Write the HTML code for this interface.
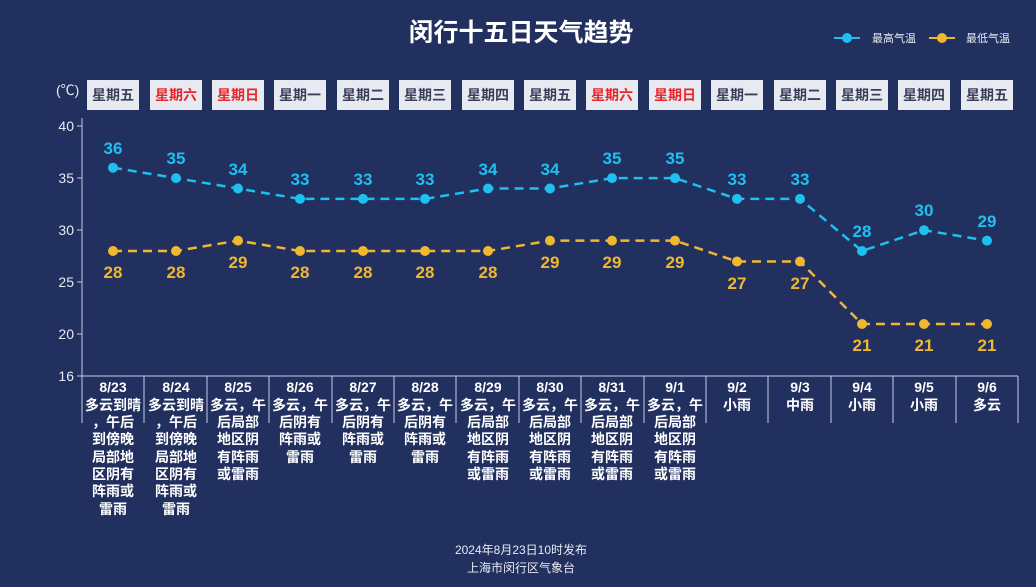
<!DOCTYPE html>
<html><head><meta charset="utf-8"><style>
html,body{margin:0;padding:0;background:#22305f;}
svg{display:block;font-family:"Liberation Sans","Noto Sans CJK SC",sans-serif;}
</style></head><body>
<svg width="1036" height="587" viewBox="0 0 1036 587" xmlns="http://www.w3.org/2000/svg">
<rect width="1036" height="587" fill="#22305f"/>
<text x="521" y="41" fill="#fff" font-size="25" font-weight="bold" text-anchor="middle">闵行十五日天气趋势</text>
<g font-size="11" fill="#e8eaf2">
<line x1="834" y1="38" x2="860" y2="38" stroke="#1ec0f0" stroke-width="2"/><circle cx="847" cy="38" r="5" fill="#1ec0f0"/>
<text x="872" y="42">最高气温</text>
<line x1="929" y1="38" x2="955" y2="38" stroke="#f0b830" stroke-width="2"/><circle cx="942" cy="38" r="5" fill="#f0b830"/>
<text x="966" y="42">最低气温</text>
</g>
<text x="56" y="95" fill="#e8eaf2" font-size="14">(℃)</text>
<g font-size="14" font-weight="bold" text-anchor="middle">
<g fill="#e8eaf2">
<rect x="87" y="80" width="52" height="30"/><rect x="150" y="80" width="52" height="30"/><rect x="212" y="80" width="52" height="30"/><rect x="274" y="80" width="52" height="30"/><rect x="337" y="80" width="52" height="30"/><rect x="399" y="80" width="52" height="30"/><rect x="462" y="80" width="52" height="30"/><rect x="524" y="80" width="52" height="30"/><rect x="586" y="80" width="52" height="30"/><rect x="649" y="80" width="52" height="30"/><rect x="711" y="80" width="52" height="30"/><rect x="774" y="80" width="52" height="30"/><rect x="836" y="80" width="52" height="30"/><rect x="898" y="80" width="52" height="30"/><rect x="961" y="80" width="52" height="30"/>
</g>
<text x="113" y="100" fill="#3a3f5c">星期五</text>
<text x="176" y="100" fill="#e8262a">星期六</text>
<text x="238" y="100" fill="#e8262a">星期日</text>
<text x="300" y="100" fill="#3a3f5c">星期一</text>
<text x="363" y="100" fill="#3a3f5c">星期二</text>
<text x="425" y="100" fill="#3a3f5c">星期三</text>
<text x="488" y="100" fill="#3a3f5c">星期四</text>
<text x="550" y="100" fill="#3a3f5c">星期五</text>
<text x="612" y="100" fill="#e8262a">星期六</text>
<text x="675" y="100" fill="#e8262a">星期日</text>
<text x="737" y="100" fill="#3a3f5c">星期一</text>
<text x="800" y="100" fill="#3a3f5c">星期二</text>
<text x="862" y="100" fill="#3a3f5c">星期三</text>
<text x="924" y="100" fill="#3a3f5c">星期四</text>
<text x="987" y="100" fill="#3a3f5c">星期五</text>
</g>
<g stroke="#c8cce0" stroke-width="1">
<line x1="82" y1="118" x2="82" y2="376"/>
<line x1="82" y1="376" x2="1018" y2="376"/>
<line x1="77" y1="126" x2="82" y2="126"/><line x1="77" y1="178" x2="82" y2="178"/><line x1="77" y1="230" x2="82" y2="230"/><line x1="77" y1="282" x2="82" y2="282"/><line x1="77" y1="334" x2="82" y2="334"/><line x1="77" y1="376" x2="82" y2="376"/>
<line x1="82" y1="376" x2="82" y2="423"/><line x1="144" y1="376" x2="144" y2="423"/><line x1="207" y1="376" x2="207" y2="423"/><line x1="269" y1="376" x2="269" y2="423"/><line x1="332" y1="376" x2="332" y2="423"/><line x1="394" y1="376" x2="394" y2="423"/><line x1="456" y1="376" x2="456" y2="423"/><line x1="519" y1="376" x2="519" y2="423"/><line x1="581" y1="376" x2="581" y2="423"/><line x1="644" y1="376" x2="644" y2="423"/><line x1="706" y1="376" x2="706" y2="423"/><line x1="768" y1="376" x2="768" y2="423"/><line x1="831" y1="376" x2="831" y2="423"/><line x1="893" y1="376" x2="893" y2="423"/><line x1="956" y1="376" x2="956" y2="423"/><line x1="1018" y1="376" x2="1018" y2="423"/>
</g>
<g fill="#e8eaf2" font-size="14" text-anchor="end">
<text x="74" y="131">40</text><text x="74" y="183">35</text><text x="74" y="235">30</text><text x="74" y="287">25</text><text x="74" y="339">20</text><text x="74" y="381">16</text>
</g>
<polyline fill="none" stroke="#1ec0f0" stroke-width="2.5" stroke-dasharray="9,6" points="113,167.7 176,178.1 238,188.5 300,198.9 363,198.9 425,198.9 488,188.5 550,188.5 612,178.1 675,178.1 737,198.9 800,198.9 862,251 924,230.2 987,240.6"/>
<g fill="#1ec0f0">
<circle cx="113" cy="167.7" r="5"/><circle cx="176" cy="178.1" r="5"/><circle cx="238" cy="188.5" r="5"/><circle cx="300" cy="198.9" r="5"/><circle cx="363" cy="198.9" r="5"/><circle cx="425" cy="198.9" r="5"/><circle cx="488" cy="188.5" r="5"/><circle cx="550" cy="188.5" r="5"/><circle cx="612" cy="178.1" r="5"/><circle cx="675" cy="178.1" r="5"/><circle cx="737" cy="198.9" r="5"/><circle cx="800" cy="198.9" r="5"/><circle cx="862" cy="251" r="5"/><circle cx="924" cy="230.2" r="5"/><circle cx="987" cy="240.6" r="5"/>
</g>
<g fill="#1ec0f0" font-size="17" font-weight="bold" text-anchor="middle">
<text x="113" y="154">36</text><text x="176" y="164">35</text><text x="238" y="175">34</text><text x="300" y="185">33</text><text x="363" y="185">33</text><text x="425" y="185">33</text><text x="488" y="175">34</text><text x="550" y="175">34</text><text x="612" y="164">35</text><text x="675" y="164">35</text><text x="737" y="185">33</text><text x="800" y="185">33</text><text x="862" y="237">28</text><text x="924" y="216">30</text><text x="987" y="227">29</text>
</g>
<polyline fill="none" stroke="#f0b830" stroke-width="2.5" stroke-dasharray="9,6" points="113,251 176,251 238,240.6 300,251 363,251 425,251 488,251 550,240.6 612,240.6 675,240.6 737,261.5 800,261.5 862,324 924,324 987,324"/>
<g fill="#f0b830">
<circle cx="113" cy="251" r="5"/><circle cx="176" cy="251" r="5"/><circle cx="238" cy="240.6" r="5"/><circle cx="300" cy="251" r="5"/><circle cx="363" cy="251" r="5"/><circle cx="425" cy="251" r="5"/><circle cx="488" cy="251" r="5"/><circle cx="550" cy="240.6" r="5"/><circle cx="612" cy="240.6" r="5"/><circle cx="675" cy="240.6" r="5"/><circle cx="737" cy="261.5" r="5"/><circle cx="800" cy="261.5" r="5"/><circle cx="862" cy="324" r="5"/><circle cx="924" cy="324" r="5"/><circle cx="987" cy="324" r="5"/>
</g>
<g fill="#f0b830" font-size="17" font-weight="bold" text-anchor="middle">
<text x="113" y="278">28</text><text x="176" y="278">28</text><text x="238" y="268">29</text><text x="300" y="278">28</text><text x="363" y="278">28</text><text x="425" y="278">28</text><text x="488" y="278">28</text><text x="550" y="268">29</text><text x="612" y="268">29</text><text x="675" y="268">29</text><text x="737" y="289">27</text><text x="800" y="289">27</text><text x="862" y="351">21</text><text x="924" y="351">21</text><text x="987" y="351">21</text>
</g>
<g fill="#ffffff" font-size="14" font-weight="bold" text-anchor="middle">
<text x="113" y="392">8/23</text><text x="113" y="410">多云到晴</text><text x="113" y="427">，午后</text><text x="113" y="444">到傍晚</text><text x="113" y="462">局部地</text><text x="113" y="479">区阴有</text><text x="113" y="496">阵雨或</text><text x="113" y="514">雷雨</text>
<text x="176" y="392">8/24</text><text x="176" y="410">多云到晴</text><text x="176" y="427">，午后</text><text x="176" y="444">到傍晚</text><text x="176" y="462">局部地</text><text x="176" y="479">区阴有</text><text x="176" y="496">阵雨或</text><text x="176" y="514">雷雨</text>
<text x="238" y="392">8/25</text><text x="238" y="410">多云，午</text><text x="238" y="427">后局部</text><text x="238" y="444">地区阴</text><text x="238" y="462">有阵雨</text><text x="238" y="479">或雷雨</text>
<text x="300" y="392">8/26</text><text x="300" y="410">多云，午</text><text x="300" y="427">后阴有</text><text x="300" y="444">阵雨或</text><text x="300" y="462">雷雨</text>
<text x="363" y="392">8/27</text><text x="363" y="410">多云，午</text><text x="363" y="427">后阴有</text><text x="363" y="444">阵雨或</text><text x="363" y="462">雷雨</text>
<text x="425" y="392">8/28</text><text x="425" y="410">多云，午</text><text x="425" y="427">后阴有</text><text x="425" y="444">阵雨或</text><text x="425" y="462">雷雨</text>
<text x="488" y="392">8/29</text><text x="488" y="410">多云，午</text><text x="488" y="427">后局部</text><text x="488" y="444">地区阴</text><text x="488" y="462">有阵雨</text><text x="488" y="479">或雷雨</text>
<text x="550" y="392">8/30</text><text x="550" y="410">多云，午</text><text x="550" y="427">后局部</text><text x="550" y="444">地区阴</text><text x="550" y="462">有阵雨</text><text x="550" y="479">或雷雨</text>
<text x="612" y="392">8/31</text><text x="612" y="410">多云，午</text><text x="612" y="427">后局部</text><text x="612" y="444">地区阴</text><text x="612" y="462">有阵雨</text><text x="612" y="479">或雷雨</text>
<text x="675" y="392">9/1</text><text x="675" y="410">多云，午</text><text x="675" y="427">后局部</text><text x="675" y="444">地区阴</text><text x="675" y="462">有阵雨</text><text x="675" y="479">或雷雨</text>
<text x="737" y="392">9/2</text><text x="737" y="410">小雨</text>
<text x="800" y="392">9/3</text><text x="800" y="410">中雨</text>
<text x="862" y="392">9/4</text><text x="862" y="410">小雨</text>
<text x="924" y="392">9/5</text><text x="924" y="410">小雨</text>
<text x="987" y="392">9/6</text><text x="987" y="410">多云</text>
</g>
<g fill="#e8eaf2" font-size="12" text-anchor="middle">
<text x="521" y="554">2024年8月23日10时发布</text>
<text x="521" y="572">上海市闵行区气象台</text>
</g>
</svg>
</body></html>
